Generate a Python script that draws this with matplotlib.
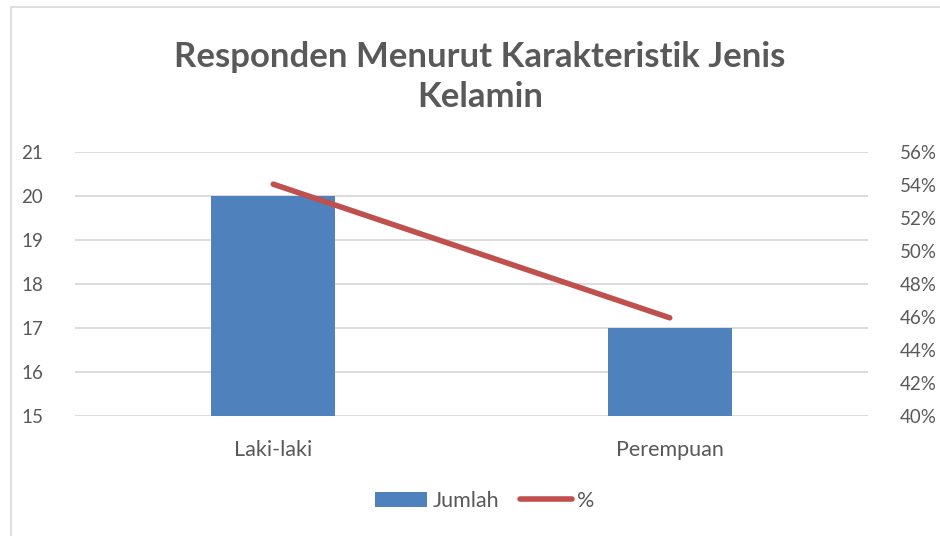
import matplotlib.pyplot as plt
from matplotlib.patches import Rectangle, Patch
from matplotlib.lines import Line2D
from matplotlib.ticker import PercentFormatter

plt.rcParams['font.family'] = ['Lato', 'DejaVu Sans']

categories = ['Laki-laki', 'Perempuan']
jumlah = [20, 17]
persen = [0.5405, 0.4595]

blue = '#4F81BD'
red = '#C0504D'
grey = '#595959'
grid = '#D9D9D9'

fig = plt.figure(figsize=(9.4, 5.36), dpi=100)

# chart area border (cut off at right/bottom like the screenshot)
fig.patches.append(Rectangle((11 / 940, -0.05), 1.0, 1 - 7 / 536 + 0.05,
                             transform=fig.transFigure, fill=False,
                             edgecolor=grid, linewidth=1.2))

ax = fig.add_axes([75 / 940, 1 - 416 / 536, (868 - 75) / 940, (416 - 152) / 536])
x = range(len(categories))
ax.bar(x, jumlah, width=0.313, color=blue, zorder=2)
ax.set_xlim(-0.5, 1.5)
ax.set_ylim(15, 21)
ax.set_yticks(range(15, 22))
ax.set_xticks(list(x))
ax.set_xticklabels(categories)
ax.grid(axis='y', color=grid, linewidth=1.3, zorder=0)
ax.set_axisbelow(True)
for s in ax.spines.values():
    s.set_visible(False)
ax.tick_params(length=0, labelcolor=grey)
ax.tick_params(axis='y', pad=23, labelsize=13.5)
ax.tick_params(axis='x', pad=17, labelsize=15.5)

ax2 = ax.twinx()
ax2.plot(list(x), persen, color=red, linewidth=4, solid_capstyle='round', zorder=3)
ax2.set_ylim(0.40, 0.56)
ax2.set_yticks([0.40 + 0.02 * i for i in range(9)])
ax2.yaxis.set_major_formatter(PercentFormatter(1.0, decimals=0))
for s in ax2.spines.values():
    s.set_visible(False)
ax2.tick_params(length=0, labelsize=13.5, labelcolor=grey, pad=23)

fig.text(480 / 940, 1 - 77 / 536, 'Responden Menurut Karakteristik Jenis\nKelamin',
         ha='center', va='center', fontsize=25, fontweight='bold', color=grey,
         linespacing=1.3)

handles = [Patch(facecolor=blue, label='Jumlah'),
           Line2D([0], [0], color=red, linewidth=4, solid_capstyle='round', label='%')]
fig.legend(handles=handles, loc='center', bbox_to_anchor=(0.516, 1 - 501 / 536),
           ncol=2, frameon=False, fontsize=15.5, labelcolor=grey,
           handlelength=2.4, handletextpad=0.25, columnspacing=1.0)

fig.savefig('out.png', dpi=100)
